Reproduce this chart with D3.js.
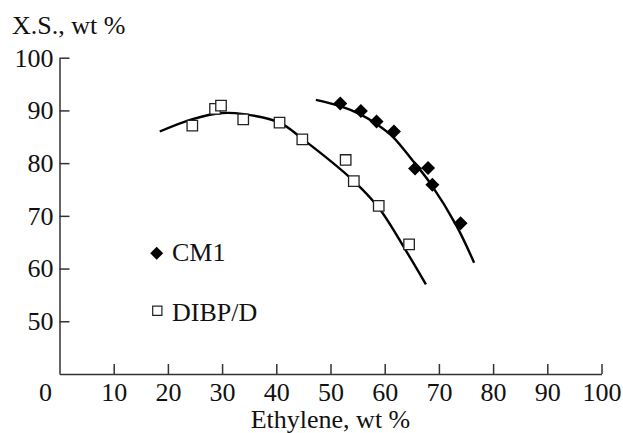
<!DOCTYPE html>
<html>
<head>
  <script src="https://d3js.org/d3.v7.min.js"></script>
  <style>
    body { margin: 0; background: #fff; }
    text { font-family: "Liberation Serif", "Times New Roman", serif; }
  </style>
</head>
<body>
  <svg id="chart"></svg>
  <script>
    // measured points
    var cm1X = [51.8, 55.6, 58.5, 61.7, 65.6, 68.0, 68.8, 74.0];
    var cm1Y = [91.3, 89.9, 87.9, 86.0, 79.0, 79.1, 75.9, 68.6];
    var dibpX = [24.5, 28.7, 29.8, 33.9, 40.6, 44.8, 52.8, 54.3, 58.9, 64.5];
    var dibpY = [87.1, 90.3, 90.9, 88.3, 87.7, 84.5, 80.6, 76.6, 71.9, 64.6];

    // fitted curves as drawn
    var cm1FitX = [47.3, 51.8, 55.6, 58.5, 61.5, 65.3, 68.4, 73.3, 76.5];
    var cm1FitY = [92.0, 90.8, 89.2, 87.4, 85.0, 80.3, 76.2, 68.0, 61.1];
    var dibpFitX = [18.5, 24.4, 30.0, 34.0, 40.6, 44.7, 54.3, 59.0, 64.5, 67.6];
    var dibpFitY = [86.0, 88.3, 89.5, 89.3, 87.7, 84.7, 76.6, 71.4, 62.4, 57.0];

    var xTicks = [0, 10, 20, 30, 40, 50, 60, 70, 80, 90, 100];
    var yTicks = [50, 60, 70, 80, 90, 100];

    var width = 623, height = 433;
    var fontSize = 26;
    var x = d3.scaleLinear().domain([0, 100]).range([59.5, 601.5]);
    var y = d3.scaleLinear().domain([40, 100]).range([374, 57.7]);

    var svg = d3.select("#chart")
                .attr("width", width)
                .attr("height", height);

    var zip = function(xs, ys) { return xs.map(function(d, i) { return [d, ys[i]]; }); };

    var line = d3.line()
                 .x(function(d) { return x(d[0]); })
                 .y(function(d) { return y(d[1]); })
                 .curve(d3.curveCatmullRom);

    // axes
    var xAxis = svg.append("g")
       .attr("transform", "translate(0," + y(40) + ")")
       .call(d3.axisBottom(x).tickValues(xTicks).tickSizeInner(-10).tickSizeOuter(0).tickPadding(9));
    var yAxis = svg.append("g")
       .attr("transform", "translate(" + x(0) + ",0)")
       .call(d3.axisLeft(y).tickValues(yTicks).tickSizeInner(-10).tickSizeOuter(0).tickPadding(6));

    [xAxis, yAxis].forEach(function(g) {
      g.selectAll("path, line").attr("stroke", "#333").attr("stroke-width", 1.5);
      g.selectAll("text").attr("font-size", fontSize).attr("fill", "#111")
       .attr("font-family", "Liberation Serif, serif");
    });
    // origin label sits left of the corner, without a tick
    xAxis.selectAll(".tick").filter(function(d) { return d === 0; })
         .call(function(t) {
           t.select("line").remove();
           t.select("text").attr("x", -14.5);
         });

    svg.append("text")
       .attr("x", 12).attr("y", 34)
       .attr("font-size", fontSize).attr("fill", "#111")
       .text("X.S., wt %");
    svg.append("text")
       .attr("x", x(50)).attr("y", 428)
       .attr("text-anchor", "middle")
       .attr("font-size", fontSize).attr("fill", "#111")
       .text("Ethylene, wt %");

    // fitted curves
    svg.append("path").datum(zip(dibpFitX, dibpFitY))
       .attr("d", line).attr("fill", "none")
       .attr("stroke", "#000").attr("stroke-width", 2.4);
    svg.append("path").datum(zip(cm1FitX, cm1FitY))
       .attr("d", line).attr("fill", "none")
       .attr("stroke", "#000").attr("stroke-width", 2.4);

    var square = d3.symbol().type(d3.symbolSquare).size(110);
    var diamond = "M0,-7L7,0L0,7L-7,0Z";

    svg.selectAll(".dibp").data(zip(dibpX, dibpY)).enter()
       .append("path").attr("class", "dibp")
       .attr("d", square)
       .attr("transform", function(d) { return "translate(" + x(d[0]) + "," + y(d[1]) + ")"; })
       .attr("fill", "#fff").attr("stroke", "#222").attr("stroke-width", 1.3);

    svg.selectAll(".cm1").data(zip(cm1X, cm1Y)).enter()
       .append("path").attr("class", "cm1")
       .attr("d", diamond)
       .attr("transform", function(d) { return "translate(" + x(d[0]) + "," + y(d[1]) + ")"; })
       .attr("fill", "#000");

    // legend
    var legend = svg.append("g");
    legend.append("path").attr("d", "M0,-6.5L6.5,0L0,6.5L-6.5,0Z")
          .attr("transform", "translate(156.7,253.3)").attr("fill", "#000");
    legend.append("text").attr("x", 172).attr("y", 261)
          .attr("font-size", fontSize).attr("fill", "#111").text("CM1");
    legend.append("path").attr("d", d3.symbol().type(d3.symbolSquare).size(85))
          .attr("transform", "translate(157.3,310.7)")
          .attr("fill", "#fff").attr("stroke", "#222").attr("stroke-width", 1.2);
    legend.append("text").attr("x", 172).attr("y", 320.7)
          .attr("font-size", fontSize).attr("fill", "#111").text("DIBP/D");
  </script>
</body>
</html>
